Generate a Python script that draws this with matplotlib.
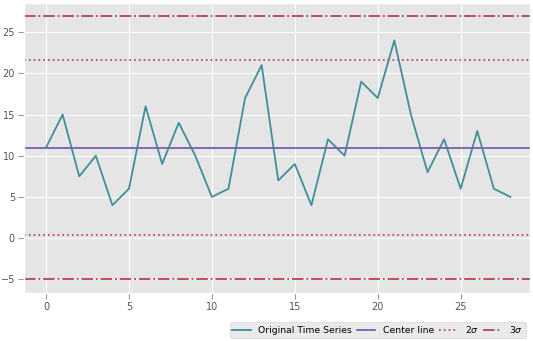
import numpy as np
import matplotlib
matplotlib.use("Agg")
import matplotlib.pyplot as plt

# time series values
t = list(range(29))
values = [11, 15, 7.5, 10, 4, 6, 16, 9, 14, 10, 5, 6, 17, 21, 7, 9, 4,
          12, 10, 19, 17, 24, 15, 8, 12, 6, 13, 6, 5]

center = np.mean(values)
sigma = np.std(values, ddof=1)

plt.style.use("ggplot")
plt.rcParams['font.family'] = ['DejaVu Sans']

fig = plt.figure(figsize=(5.33, 3.41), dpi=100)
ax = fig.add_axes([0.045, 0.142, 0.95, 0.85])

ax.plot(t, values, color='#3f8f9b', lw=1.3, label='Original Time Series')
ax.axhline(center, color='#7a5fae', lw=1.3, label='Center line')
ax.axhline(center + 2 * sigma, color='#c0505a', lw=1.3, ls=':', label=r'$2\sigma$')
ax.axhline(center - 2 * sigma, color='#c0505a', lw=1.3, ls=':')
ax.axhline(center + 3 * sigma, color='#b8434f', lw=1.3, ls='-.', label=r'$3\sigma$')
ax.axhline(center - 3 * sigma, color='#b8434f', lw=1.3, ls='-.')

ax.set_xlim(-1.33, 29.2)
ax.set_xticks([0, 5, 10, 15, 20, 25])
ax.set_yticks([-5, 0, 5, 10, 15, 20, 25])
ax.set_yticklabels(['\u22125', '0', '5', '10', '15', '20', '25'])
ax.tick_params(labelsize=7, colors='#999999', labelcolor='#555555',
               length=4, width=0.8, pad=2.5)

ax.legend(loc='upper right', bbox_to_anchor=(1.0, -0.085), ncol=4,
          fontsize=6.7, frameon=True, handlelength=2.0, columnspacing=0.5,
          handletextpad=0.8, borderpad=0.25)

fig.savefig('out.png', dpi=100)
